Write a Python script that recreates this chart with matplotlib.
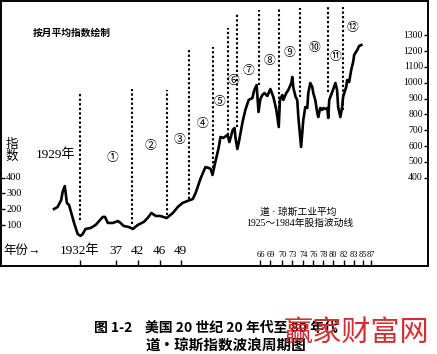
import matplotlib
import matplotlib.pyplot as plt
import numpy as np

matplotlib.use('agg')

plt.rcParams['font.family'] = ['Liberation Serif', 'Noto Sans CJK SC', 'DejaVu Sans']

# Dow Jones monthly average
years = [1928.4, 1928.9, 1929.4, 1929.6, 1929.9, 1930.2, 1930.5, 1931.2, 1931.7, 1932.1,
         1932.4, 1932.8, 1933.5, 1934.2, 1935.2, 1935.5, 1935.9, 1936.6, 1937.5, 1938.1,
         1938.8, 1940.0, 1940.9, 1942.0, 1943.1, 1943.8, 1944.5, 1945.3, 1946.1, 1947.0,
         1947.9, 1948.6, 1949.4, 1950.5, 1951.6, 1952.2, 1953.3, 1954.3, 1955.0, 1955.4,
         1955.8, 1956.4, 1957.1, 1957.5, 1958.1, 1959.0, 1959.4, 1960.1, 1960.5, 1960.7,
         1961.1, 1961.5, 1962.2, 1962.8, 1963.5, 1964.3, 1964.7, 1965.2, 1965.6, 1966.0,
         1966.6, 1967.2, 1968.1, 1969.0, 1969.25, 1969.5, 1969.7, 1969.8, 1970.0, 1970.3,
         1971.2, 1971.8, 1972.7, 1973.0, 1973.1, 1973.3, 1973.45, 1973.55, 1973.8, 1974.0,
         1974.4, 1974.8, 1975.0, 1975.4, 1975.8, 1976.0, 1976.4, 1976.8, 1977.0, 1977.4,
         1977.8, 1978.0, 1978.4, 1978.8, 1979.0, 1979.2, 1979.8, 1980.4, 1980.7, 1980.9,
         1981.3, 1981.6, 1981.8, 1982.2, 1982.3, 1982.5, 1982.7, 1982.9, 1983.0, 1983.4,
         1983.7, 1984.1, 1984.6]
dow = [202, 215, 259, 310, 347, 240, 227, 114, 44, 32,
       44, 76, 82, 101, 152, 152, 114, 114, 126, 114,
       95, 88, 76, 101, 120, 145, 177, 158, 158, 145,
       177, 215, 240, 253, 265, 303, 398, 467, 461, 455,
       417, 499, 587, 657, 651, 670, 625, 701, 714, 651,
       581, 638, 752, 828, 891, 903, 954, 985, 815, 897,
       922, 935, 916, 960, 910, 828, 720, 891, 922, 891,
       935, 954, 998, 1036, 966, 910, 891, 783, 594, 764,
       846, 840, 935, 998, 973, 935, 891, 809, 783, 840,
       828, 840, 834, 840, 777, 891, 941, 998, 954, 846,
       783, 840, 910, 973, 1017, 1004, 1080, 1131, 1175, 1194,
       1207, 1232, 1238]

# wave boundaries (dashed lines)
wave_years = [1932.0, 1940.6, 1947.1, 1950.9, 1955.8, 1959.0, 1961.1, 1965.6, 1969.75, 1973.7, 1979.0, 1981.8]
wave_tops = [929, 960, 954, 1213, 1226, 1346, 1434, 1459, 1466, 1472, 1485, 1478]
wave_bottoms = [133, 107, 164, 265, 461, 670, 720, 985, 840, 910, 941, 828]

wave_marks = ['①', '②', '③', '④', '⑤', '⑥', '⑦', '⑧', '⑨', '⑩', '⑪', '⑫']
mark_years = [1936.6, 1944.4, 1948.9, 1953.7, 1957.3, 1960.3, 1963.5, 1968.7, 1972.1, 1976.2, 1980.4, 1982.8]
mark_values = [524, 600, 638, 739, 878, 1011, 1074, 1137, 1188, 1219, 1162, 1346]

left_ticks = [100, 200, 300, 400]
right_ticks = [400, 500, 600, 700, 800, 900, 1000, 1100, 1200, 1300]
big_tick_years = [1932, 1937, 1942, 1946, 1949]
big_tick_labels = ['1932年', '37', '42', '46', '49']
small_tick_years = [1966, 1969, 1970, 1973, 1974, 1976, 1978, 1980, 1982, 1983, 1985, 1987]
small_tick_labels = ['66', '69', '70', '73', '74', '76', '78', '80', '82', '83', '85', '87']

# the book's time axis is not uniform: piecewise map year -> horizontal position
axis_years = [1921, 1932, 1937, 1942, 1946, 1949, 1966, 1969, 1970, 1973, 1974,
              1976, 1978, 1980, 1982, 1983, 1985, 1987, 2001]
axis_pos = [0, 79, 115, 137, 159, 180, 260, 270, 282, 292, 303,
            313, 323, 333, 344, 354, 363, 371, 428]


def fwd(x):
    return np.interp(x, axis_years, axis_pos)


def inv(p):
    return np.interp(p, axis_pos, axis_years)


def px(x, y):
    # figure pixel -> figure fraction
    return x / 437, 1 - y / 354


fig = plt.figure(figsize=(4.37, 3.54), dpi=100)
ax = fig.add_axes([1 / 437, 88 / 354, 427 / 437, 265 / 354])
ax.set_xscale('function', functions=(fwd, inv))
ax.set_xlim(1921, 2001)
ax.set_ylim(-158, 1516)

ax.plot(years, dow, color='black', lw=1.9)
ax.vlines(wave_years, wave_bottoms, wave_tops, colors='black', lw=1.5, linestyles=(0, (1.1, 1.1)))

for m, yr, v in zip(wave_marks, mark_years, mark_values):
    ax.text(yr, v, m, ha='center', va='center', fontsize=8.5)

ax.set_xticks(big_tick_years + small_tick_years)
ax.set_xticklabels([])
ax.tick_params(axis='x', direction='in', length=4, width=1)
ax.set_yticks(left_ticks)
ax.set_yticklabels([])
ax.tick_params(axis='y', direction='in', length=3, width=1)

twin = ax.twinx()
twin.set_ylim(ax.get_ylim())
twin.set_yticks(right_ticks)
twin.set_yticklabels([])
twin.tick_params(axis='y', direction='in', length=3, width=1)

for a in (ax, twin):
    for s in a.spines.values():
        s.set_linewidth(1.2)

for v in left_ticks:
    ax.text(0.012, v, str(v), transform=ax.get_yaxis_transform(), ha='left', va='center', fontsize=7.5)
for v in right_ticks:
    ax.text(0.988, v, str(v), transform=ax.get_yaxis_transform(), ha='right', va='center', fontsize=7)
for yr, lbl in zip(big_tick_years, big_tick_labels):
    ax.text(yr, 0.057, lbl, transform=ax.get_xaxis_transform(), ha='center', va='center', fontsize=9.5)
for yr, lbl in zip(small_tick_years, small_tick_labels):
    ax.text(yr, 0.042, lbl, transform=ax.get_xaxis_transform(), ha='center', va='center', fontsize=6)

fig.text(*px(72, 33), '按月平均指数绘制', ha='center', va='center', fontsize=7, fontweight='bold')
fig.text(*px(12, 151), '指\n数', ha='center', va='center', fontsize=9, linespacing=1.05)
fig.text(*px(56, 155), '1929年', ha='center', va='center', fontsize=9.5)
fig.text(*px(22, 251), '年份→', ha='center', va='center', fontsize=9)
fig.text(*px(298, 212), '道 · 琼斯工业平均', ha='center', va='center', fontsize=7)
fig.text(*px(300, 223), '1925～1984年股指波动线', ha='center', va='center', fontsize=7)

fig.text(*px(216, 328), '图 1-2    美国 20 世纪 20 年代至 80 年代', ha='center', va='center',
         fontsize=10, fontweight='bold', family=['Noto Sans CJK SC', 'DejaVu Sans'])
fig.text(*px(226, 346), '道・琼斯指数波浪周期图', ha='center', va='center',
         fontsize=10.5, fontweight='bold', family=['Noto Sans CJK SC', 'DejaVu Sans'])
fig.text(*px(357, 333), '赢家财富网', ha='center', va='center', fontsize=21,
         color='#d03030', fontweight='light', family=['Noto Sans CJK SC'])

fig.savefig('out.png', dpi=100)
plt.close()
